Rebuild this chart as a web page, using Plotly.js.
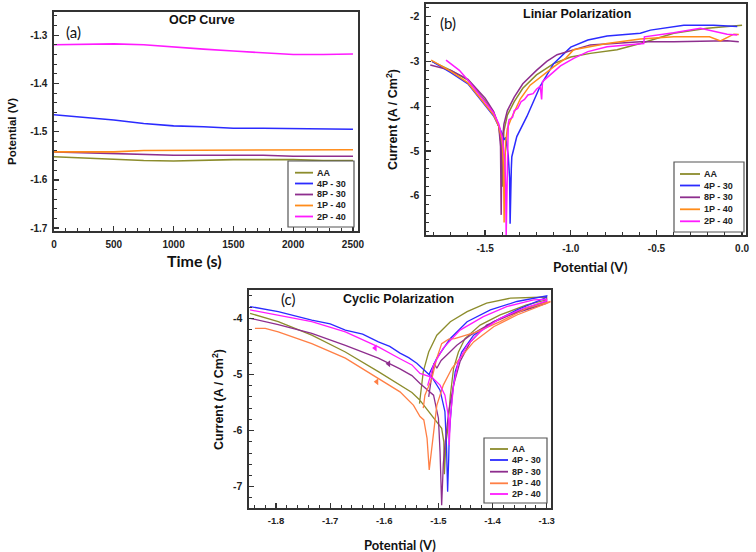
<!DOCTYPE html>
<html><head><meta charset="utf-8">
<script src="https://cdn.plot.ly/plotly-3.0.1.min.js"></script>
<style>html,body{margin:0;padding:0;background:#fff}#chart{width:756px;height:552px}</style>
</head><body><div id="chart"></div>
<script>
// ---------- series names ----------
const seriesNames = ['AA', '4P - 30', '8P - 30', '1P - 40', '2P - 40'];

// ---------- (a) OCP curve ----------
const ocpTime = [0, 250, 500, 750, 1000, 1250, 1500, 1750, 2000, 2250, 2500];
const ocpAA  = [-1.552, -1.555, -1.557, -1.560, -1.561, -1.559, -1.558, -1.558, -1.558, -1.560, -1.560];
const ocp4P30 = [-1.465, -1.470, -1.476, -1.483, -1.488, -1.490, -1.493, -1.493, -1.494, -1.495, -1.495];
const ocp8P30 = [-1.542, -1.544, -1.546, -1.548, -1.549, -1.549, -1.549, -1.549, -1.551, -1.551, -1.551];
const ocp1P40 = [-1.542, -1.542, -1.542, -1.539, -1.539, -1.538, -1.5375, -1.5375, -1.5375, -1.5375, -1.5375];
const ocp2P40 = [-1.320, -1.319, -1.318, -1.320, -1.325, -1.329, -1.333, -1.337, -1.340, -1.340, -1.339];

// ---------- (b) Linear polarization (potential V, log current) ----------
const linAA_x = [-1.81, -1.7, -1.6, -1.5, -1.45, -1.42, -1.405, -1.401, -1.399, -1.396, -1.39, -1.37, -1.33, -1.28, -1.2, -1.1, -1.0, -0.886, -0.73, -0.594, -0.399, -0.204, 0.0];
const linAA_y = [-3.0, -3.2, -3.42, -3.88, -4.15, -4.45, -4.9, -5.4, -5.8, -5.0, -4.55, -4.2, -3.9, -3.6, -3.3, -3.05, -2.9, -2.82, -2.74, -2.6, -2.37, -2.26, -2.19];
const lin4P30_x = [-1.81, -1.7, -1.6, -1.5, -1.45, -1.42, -1.40, -1.39, -1.38, -1.365, -1.357, -1.354, -1.351, -1.347, -1.344, -1.315, -1.256, -1.178, -1.1, -1.0, -0.9, -0.788, -0.594, -0.535, -0.34, -0.165, -0.028];
const lin4P30_y = [-3.0, -3.25, -3.5, -3.98, -4.22, -4.45, -4.62, -4.75, -4.7, -5.1, -5.6, -6.63, -5.8, -5.4, -5.13, -4.68, -4.23, -3.55, -3.05, -2.68, -2.52, -2.43, -2.37, -2.3, -2.19, -2.19, -2.22];
const lin8P30_x = [-1.82, -1.75, -1.7, -1.6, -1.5, -1.45, -1.42, -1.41, -1.407, -1.406, -1.404, -1.40, -1.39, -1.37, -1.33, -1.28, -1.2, -1.14, -1.08, -0.886, -0.594, -0.399, -0.087, -0.019];
const lin8P30_y = [-3.08, -3.14, -3.2, -3.4, -3.82, -4.12, -4.45, -4.9, -5.5, -6.43, -5.5, -4.8, -4.4, -4.1, -3.8, -3.5, -3.2, -3.0, -2.85, -2.63, -2.56, -2.56, -2.54, -2.56];
const lin1P40_x = [-1.815, -1.7, -1.6, -1.5, -1.45, -1.42, -1.40, -1.392, -1.389, -1.386, -1.38, -1.37, -1.35, -1.295, -1.237, -1.1, -1.03, -0.983, -0.788, -0.594, -0.399, -0.19, -0.126, -0.048, -0.019];
const lin1P40_y = [-2.97, -3.22, -3.48, -3.95, -4.2, -4.45, -4.8, -5.4, -6.6, -5.5, -4.8, -4.5, -4.3, -3.84, -3.53, -3.12, -2.93, -2.74, -2.6, -2.5, -2.45, -2.45, -2.54, -2.39, -2.4];
const lin2P40_x = [-1.728, -1.65, -1.6, -1.5, -1.45, -1.42, -1.40, -1.385, -1.38, -1.377, -1.374, -1.37, -1.365, -1.36, -1.34, -1.33, -1.31, -1.29, -1.27, -1.25, -1.22, -1.2, -1.178, -1.17, -1.165, -1.12, -1.06, -0.983, -0.9, -0.788, -0.574, -0.57, -0.399, -0.243, -0.185, -0.087, -0.028];
const lin2P40_y = [-2.97, -3.2, -3.42, -3.9, -4.15, -4.4, -4.7, -5.2, -5.8, -6.9, -6.0, -5.0, -4.4, -4.3, -4.25, -4.1, -4.05, -3.9, -3.85, -3.75, -3.72, -3.62, -3.55, -3.85, -3.45, -3.3, -3.1, -2.93, -2.78, -2.67, -2.6, -2.45, -2.36, -2.26, -2.31, -2.39, -2.41];

// ---------- (c) Cyclic polarization ----------
const cycAA_x = [-1.848, -1.796, -1.734, -1.672, -1.611, -1.571, -1.549, -1.535, -1.494, -1.490, -1.489, -1.486, -1.483, -1.478, -1.472, -1.463, -1.451, -1.423, -1.386, -1.337, -1.3, -1.3, -1.367, -1.411, -1.447, -1.478, -1.503, -1.518, -1.528, -1.535];
const cycAA_y = [-3.91, -4.06, -4.3, -4.6, -4.95, -5.19, -5.32, -5.45, -5.96, -6.2, -6.78, -6.2, -6.0, -5.37, -4.89, -4.6, -4.36, -4.12, -3.94, -3.76, -3.67, -3.62, -3.64, -3.73, -3.88, -4.06, -4.3, -4.6, -4.95, -5.52];
const cyc4P30_x = [-1.848, -1.796, -1.734, -1.700, -1.672, -1.640, -1.611, -1.590, -1.571, -1.555, -1.540, -1.522, -1.512, -1.497, -1.488, -1.485, -1.483, -1.481, -1.48, -1.475, -1.469, -1.457, -1.435, -1.398, -1.355, -1.301, -1.3, -1.355, -1.404, -1.447, -1.478, -1.503, -1.518];
const cyc4P30_y = [-3.79, -3.88, -4.03, -4.10, -4.21, -4.28, -4.42, -4.50, -4.62, -4.70, -4.80, -4.95, -5.05, -5.28, -5.66, -6.3, -7.09, -6.5, -6.08, -5.43, -4.95, -4.6, -4.3, -4.06, -3.85, -3.63, -3.6, -3.7, -3.85, -4.06, -4.36, -4.71, -5.01];
const cyc8P30_x = [-1.848, -1.796, -1.734, -1.672, -1.611, -1.571, -1.549, -1.534, -1.509, -1.5, -1.497, -1.494, -1.491, -1.488, -1.481, -1.472, -1.46, -1.441, -1.411, -1.367, -1.3, -1.3, -1.355, -1.398, -1.441, -1.466, -1.484, -1.495, -1.503, -1.508, -1.512, -1.518];
const cyc8P30_y = [-4.0, -4.11, -4.27, -4.48, -4.71, -4.9, -5.02, -5.16, -5.37, -5.78, -6.38, -7.33, -6.6, -6.26, -5.66, -5.19, -4.77, -4.42, -4.12, -3.94, -3.73, -3.7, -3.88, -4.06, -4.3, -4.48, -4.65, -4.75, -4.89, -4.8, -5.01, -5.4];
const cyc1P40_x = [-1.839, -1.82, -1.796, -1.734, -1.672, -1.611, -1.58, -1.571, -1.546, -1.534, -1.527, -1.521, -1.517, -1.512, -1.509, -1.503, -1.491, -1.475, -1.46, -1.435, -1.398, -1.355, -1.294, -1.294, -1.337, -1.386, -1.429, -1.47, -1.481, -1.494, -1.503, -1.512, -1.525, -1.528];
const cyc1P40_y = [-4.18, -4.18, -4.24, -4.45, -4.71, -5.07, -5.25, -5.31, -5.55, -5.75, -5.81, -6.14, -6.7, -6.26, -5.96, -5.55, -5.19, -4.89, -4.71, -4.42, -4.15, -3.94, -3.71, -3.7, -3.82, -4.06, -4.24, -4.36, -4.37, -4.45, -4.71, -5.07, -5.37, -5.6];
const cyc2P40_x = [-1.848, -1.796, -1.734, -1.672, -1.611, -1.571, -1.549, -1.534, -1.512, -1.497, -1.488, -1.481, -1.48, -1.478, -1.472, -1.463, -1.447, -1.423, -1.386, -1.343, -1.3, -1.3, -1.324, -1.374, -1.417, -1.46, -1.491, -1.509, -1.518, -1.52];
const cyc2P40_y = [-3.85, -3.94, -4.06, -4.24, -4.51, -4.72, -4.83, -4.98, -5.05, -5.19, -5.37, -5.78, -6.26, -5.78, -5.19, -4.77, -4.48, -4.24, -4.0, -3.82, -3.69, -3.66, -3.67, -3.79, -3.97, -4.21, -4.53, -4.83, -5.13, -5.2];
// scan-direction arrows on the reverse branches (8P-30, 1P-40, 2P-40)
const arrowSeries = [2, 3, 4];
const arrowX = [-1.592, -1.614, -1.617];
const arrowY = [-4.81, -5.13, -4.53];

// ---------- tick labels ----------
const aXTicks = [0, 500, 1000, 1500, 2000, 2500];
const aXText = ['0', '500', '1000', '1500', '2000', '2500'];
const aYTicks = [-1.3, -1.4, -1.5, -1.6, -1.7];
const aYText = ['-1.3', '-1.4', '-1.5', '-1.6', '-1.7'];
const bXTicks = [-1.5, -1.0, -0.5, 0.0];
const bXText = ['-1.5', '-1.0', '-0.5', '0.0'];
const bYTicks = [-2, -3, -4, -5, -6];
const bYText = ['-2', '-3', '-4', '-5', '-6'];
const cXTicks = [-1.8, -1.7, -1.6, -1.5, -1.4, -1.3];
const cXText = ['-1.8', '-1.7', '-1.6', '-1.5', '-1.4', '-1.3'];
const cYTicks = [-4, -5, -6, -7];
const cYText = ['-4', '-5', '-6', '-7'];

// ---------- styling ----------
const colAB = ['#8C8C2C', '#2B2BFF', '#8E2E8E', '#FF8C1A', '#FF1AFF'];
const colC  = ['#8C8C2C', '#2B2BFF', '#8E2E8E', '#FF7F45', '#FF1AFF'];
const W = 756, H = 552;
const AR = 'Liberation Sans, Arial, sans-serif';
const CAL = 'Lato, Open Sans, sans-serif';
const px = v => v / W, py = v => 1 - v / H;

const ocpY = [ocpAA, ocp4P30, ocp8P30, ocp1P40, ocp2P40];
const linX = [linAA_x, lin4P30_x, lin8P30_x, lin1P40_x, lin2P40_x];
const linY = [linAA_y, lin4P30_y, lin8P30_y, lin1P40_y, lin2P40_y];
const cycX = [cycAA_x, cyc4P30_x, cyc8P30_x, cyc1P40_x, cyc2P40_x];
const cycY = [cycAA_y, cyc4P30_y, cyc8P30_y, cyc1P40_y, cyc2P40_y];

const traces = [];
seriesNames.forEach((n, i) => {
  traces.push({x: ocpTime, y: ocpY[i], xaxis: 'x', yaxis: 'y', mode: 'lines', name: n,
    line: {color: colAB[i], width: 1.6}, showlegend: false});
});
seriesNames.forEach((n, i) => {
  traces.push({x: linX[i], y: linY[i], xaxis: 'x2', yaxis: 'y2', mode: 'lines', name: n,
    line: {color: colAB[i], width: 1.5}, showlegend: false});
});
seriesNames.forEach((n, i) => {
  traces.push({x: cycX[i], y: cycY[i], xaxis: 'x3', yaxis: 'y3', mode: 'lines', name: n,
    line: {color: colC[i], width: 1.3}, showlegend: false});
});
traces.push({x: arrowX, y: arrowY, xaxis: 'x3', yaxis: 'y3', mode: 'markers', showlegend: false,
  marker: {symbol: 'triangle-left', size: 6, color: arrowSeries.map(i => colC[i])}, hoverinfo: 'skip'});

function axis(dom, range, tv, tt, minor, anchor, fs) {
  return {domain: dom, range: range, anchor: anchor, tickmode: 'array', tickvals: tv,
    ticktext: tt.map(t => '<b>' + t + '</b>'),
    showline: true, mirror: true, linecolor: '#333', linewidth: 1.6, showgrid: false, zeroline: false,
    ticks: 'inside', ticklen: 5, tickwidth: 1.3, tickcolor: '#333',
    minor: {tickmode: 'linear', tick0: 0, dtick: minor, ticks: 'inside', ticklen: 3, tickwidth: 1, tickcolor: '#333'},
    tickfont: {family: AR, size: fs, color: '#222'}, ticklabelstandoff: 3};
}

const layout = {
  width: W, height: H, margin: {l: 0, r: 0, t: 0, b: 0},
  paper_bgcolor: '#fff', plot_bgcolor: '#fff', showlegend: false,
  xaxis:  axis([px(54), px(358)], [0, 2542], aXTicks, aXText, 100, 'y', 10),
  yaxis:  axis([py(231), py(12)], [-1.706, -1.252], aYTicks, aYText, 0.02, 'x', 10),
  xaxis2: axis([px(426), px(746)], [-1.845, 0.023], bXTicks, bXText, 0.1, 'y2', 10),
  yaxis2: axis([py(235), py(4)], [-6.88, -1.716], bYTicks, bYText, 0.2, 'x2', 10.5),
  xaxis3: axis([px(249), px(551)], [-1.85, -1.292], cXTicks, cXText, 0.02, 'y3', 9.5),
  yaxis3: axis([py(508), py(290)], [-7.38, -3.495], cYTicks, cYText, 0.2, 'x3', 10.5),
  annotations: [], shapes: []
};

function ann(text, x, y, size, fam, angle) {
  layout.annotations.push({text: text, x: px(x), y: py(y), xref: 'paper', yref: 'paper',
    xanchor: 'center', yanchor: 'middle', showarrow: false, textangle: angle || 0,
    font: {family: fam, size: size, color: '#111'}});
}
// panel titles
ann('<b>OCP Curve</b>', 202, 20, 12.5, AR);
ann('(a)', 73, 32, 15, CAL);
ann('<b>Liniar Polarization</b>', 577, 14, 12.5, AR);
ann('(b)', 448, 23, 15, CAL);
ann('<b>Cyclic Polarization</b>', 398, 299, 12.5, AR);
ann('(c)', 288, 299, 15, CAL);
// axis titles
ann('<b>Potential (V)</b>', 12, 132, 11.5, AR, -90);
ann('<b>Time (s)</b>', 194, 260, 16, CAL);
ann('<b>Current (A / Cm<sup>2</sup>)</b>', 392, 120, 12.5, AR, -90);
ann('<b>Potential (V)</b>', 590, 267, 13.5, CAL);
ann('<b>Current (A / Cm<sup>2</sup>)</b>', 218, 400, 12.5, AR, -90);
ann('<b>Potential (V)</b>', 400, 545, 13, CAL);

// legends
function legend(box, lineX0, lineX1, textX, rows, cols) {
  layout.shapes.push({type: 'rect', xref: 'paper', yref: 'paper', x0: px(box[0]), x1: px(box[1]),
    y0: py(box[3]), y1: py(box[2]), line: {color: '#555', width: 1.2}, fillcolor: '#fff', layer: 'above'});
  seriesNames.forEach((n, i) => {
    layout.shapes.push({type: 'line', xref: 'paper', yref: 'paper', x0: px(lineX0), x1: px(lineX1),
      y0: py(rows[i]), y1: py(rows[i]), line: {color: cols[i], width: 1.8}, layer: 'above'});
    layout.annotations.push({text: '<b>' + n + '</b>', x: px(textX), y: py(rows[i]), xref: 'paper', yref: 'paper',
      xanchor: 'left', yanchor: 'middle', showarrow: false, font: {family: AR, size: 9, color: '#222'}});
  });
}
legend([288, 354, 161, 227], 295, 313, 315, [172.7, 183.5, 194.5, 205.5, 216.5], colAB);
legend([674, 744, 162, 232], 680, 700, 702, [174, 185.5, 197.3, 209.3, 221.3], colAB);
legend([484, 547, 438, 503], 490, 508, 510, [449, 460, 471.7, 483.3, 494], colC);

Plotly.newPlot('chart', traces, layout, {staticPlot: true, displayModeBar: false});
</script></body></html>
